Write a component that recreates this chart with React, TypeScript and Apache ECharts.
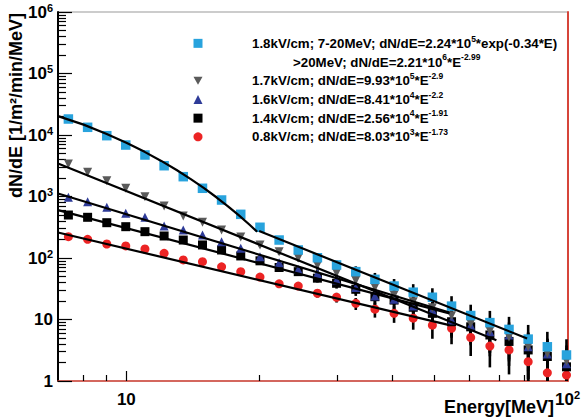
import React, { useEffect, useRef } from "react";
import * as echarts from "echarts";

const FF = '"Liberation Sans", Arial, Helvetica, sans-serif';

// Bin centres (MeV)
const energy = [7.39, 8.17, 9.03, 9.97, 11.02, 12.18, 13.46, 14.88, 16.44, 18.17, 20.09, 22.2, 24.53, 27.11, 29.96, 33.12, 36.6, 40.45, 44.7, 49.4, 54.6, 60.34, 66.69, 73.7, 81.45, 90.02, 99.48];

// dN/dE values per field
const flux18 = [18200, 13340, 9750, 6870, 4730, 3165, 2100, 1360, 877, 513, 316, 196, 135, 101, 77, 60, 45, 35, 27.8, 23, 16.5, 11.6, 8.9, 6.9, 4.8, 3.6, 2.65];
const flux17 = [3375, 2473, 1807, 1360, 993, 701, 480, 380, 285, 220, 163, 126, 100, 76, 57, 43, 33, 25, 19.5, 15.5, 11.5, 8.6, 6.5, 5.2, 3.6, 2.8, 2.1];
const flux16 = [970, 823, 667, 533, 459, 331, 285, 237, 184, 144, 105, 84, 65, 56, 44, 33, 24, 21.3, 16.6, 14.3, 9.8, 8.1, 6.3, 5.6, 3.6, 2.75, 1.9];
const flux14 = [500, 459, 375, 323, 268, 228, 196, 163, 135, 108, 90, 70, 60, 47, 38.8, 31, 23.5, 20.7, 15.8, 12.6, 9.2, 7.6, 5.6, 4.4, 3.2, 2.5, 1.7];
const flux08 = [222, 201, 169, 157, 140, 119, 93, 87, 72, 60, 49, 38, 35, 26.7, 23, 18.3, 14.7, 12.6, 10.5, 8.1, 7.2, 5.1, 3.7, 3.2, 2.06, 1.36, 1.25];

// relative statistical error per bin
const relErr = [0, 0, 0, 0, 0, 0, 0, 0.03, 0.05, 0.06, 0.08, 0.1, 0.12, 0.15, 0.18, 0.22, 0.27, 0.3, 0.35, 0.4, 0.45, 0.5, 0.55, 0.6, 0.7, 0.75, 0.8];

// fit curves
const fit18ExpE = [7, 8, 9, 10, 11, 12, 13, 14, 15, 16, 17, 18, 19, 19.8];
const fit18ExpV = [20300, 14750, 10500, 7475, 5320, 3788, 2695, 1919, 1366, 972, 692, 492, 350, 267];
const fit18PowE = [20, 81];
const fit18PowV = [275, 4.9];
const fit17E = [7, 69];
const fit17V = [3450, 4.6];
const fit16E = [7, 54];
const fit16V = [1120, 13];
const fit14E = [7, 54];
const fit14V = [600, 12.6];
const fit08E = [7, 54];
const fit08V = [260, 8.1];

// legend texts
const name18 = "1.8kV/cm; 7-20MeV; dN/dE=2.24*10^5*exp(-0.34*E)";
const name18b = ">20MeV; dN/dE=2.21*10^6*E^-2.99";
const name17 = "1.7kV/cm; dN/dE=9.93*10^5*E^-2.9";
const name16 = "1.6kV/cm; dN/dE=8.41*10^4*E^-2.2";
const name14 = "1.4kV/cm; dN/dE=2.56*10^4*E^-1.91";
const name08 = "0.8kV/cm; dN/dE=8.03*10^3*E^-1.73";

// tick values
const yMajorTicks = [1, 10, 100, 1000, 10000, 100000, 1000000];
const yMinorMult = [2, 3, 4, 5, 6, 7, 8, 9];
const xMajorTicks = [10];
const xLabelTicks = [10, 100];
const xMinorTicks = [8, 9, 20, 30, 40, 50, 60, 70, 80, 90];

const yMinorTicks: number[] = [];
yMajorTicks.slice(0, -1).forEach((d) => yMinorMult.forEach((m) => yMinorTicks.push(d * m)));

const downTri = "path://M0,0L10,0L5,8.66Z";

function toRich(s: string, main: string, sup: string) {
  const body = s.replace(/\^(-?\d+(?:\.\d+)?)/g, (_m, g) => `}{${sup}|${g}}{${main}|`);
  return (`{${main}|` + body + "}").replace(new RegExp(`\\{${main}\\|\\}`, "g"), "");
}

function powLabel(v: number) {
  const e = Math.round(Math.log10(v));
  if (e === 0) return "{b|1}";
  if (e === 1) return "{b|10}";
  return `{b|10}{s|${e}}`;
}

const pairs = (xs: number[], ys: number[]) => xs.map((x, i) => [x, ys[i]]);

export default function App() {
  const ref = useRef<HTMLDivElement>(null);
  useEffect(() => {
    document.body.style.margin = "0";
    const chart = echarts.init(ref.current!, null, { renderer: "svg" });

    const errData: number[][] = [];
    [flux18, flux17, flux16, flux14, flux08].forEach((arr) =>
      energy.forEach((e, i) => {
        const f = relErr[i];
        if (f > 0) errData.push([e, arr[i], arr[i] * (1 - f), arr[i] * (1 + f)]);
      })
    );

    const tickLabelRich = {
      b: { fontSize: 17, fontWeight: "bold", fontFamily: FF, color: "#000", lineHeight: 20 },
      s: { fontSize: 11, fontWeight: "bold", fontFamily: FF, color: "#000", verticalAlign: "top", lineHeight: 9 },
    };

    const scat = (name: string, ys: number[], symbol: string, size: number, color: string) => ({
      type: "scatter",
      name,
      data: pairs(energy, ys),
      symbol,
      symbolSize: size,
      itemStyle: { color, opacity: 1 },
      z: 2,
      silent: true,
    });
    const fitLine = (xs: number[], ys: number[], name?: string) => ({
      type: "line",
      name,
      data: pairs(xs, ys),
      symbol: "none",
      lineStyle: { color: "#000", width: 2.2 },
      z: 3,
      silent: true,
    });

    const option: any = {
      animation: false,
      backgroundColor: "#fff",
      grid: { left: 58, right: 13, top: 12, bottom: 39, show: true, borderColor: "#999", borderWidth: 1 },
      xAxis: [
        {
          type: "log",
          logBase: 10,
          min: 7,
          max: 100,
          position: "bottom",
          axisLine: { show: true, lineStyle: { color: "#d6453a", width: 1.5 } },
          axisTick: { show: true, inside: true, length: 6, customValues: xMinorTicks, lineStyle: { color: "#000", width: 1.2 } },
          axisLabel: { customValues: xLabelTicks, formatter: powLabel, margin: 8, rich: tickLabelRich },
          splitLine: { show: false },
        },
        {
          type: "log",
          logBase: 10,
          min: 7,
          max: 100,
          position: "bottom",
          axisLine: { show: false },
          axisTick: { show: true, inside: true, length: 10, customValues: xMajorTicks, lineStyle: { color: "#000", width: 1.2 } },
          axisLabel: { show: false },
          splitLine: { show: false },
        },
      ],
      yAxis: [
        {
          type: "log",
          logBase: 10,
          min: 1,
          max: 1000000,
          position: "left",
          axisLine: { show: true, lineStyle: { color: "#000", width: 2 } },
          axisTick: { show: true, inside: true, length: 8, customValues: yMinorTicks, lineStyle: { color: "#000", width: 1.2 } },
          axisLabel: { customValues: yMajorTicks, formatter: powLabel, margin: 5, rich: tickLabelRich },
          splitLine: { show: false },
        },
        {
          type: "log",
          logBase: 10,
          min: 1,
          max: 1000000,
          position: "left",
          axisLine: { show: false },
          axisTick: { show: true, inside: true, length: 14, customValues: yMajorTicks, lineStyle: { color: "#000", width: 1.2 } },
          axisLabel: { show: false },
          splitLine: { show: false },
        },
        {
          type: "log",
          logBase: 10,
          min: 1,
          max: 1000000,
          position: "right",
          axisLine: { show: true, lineStyle: { color: "#d6453a", width: 2 } },
          axisTick: { show: false },
          axisLabel: { show: false },
          splitLine: { show: false },
        },
      ],
      legend: {
        orient: "vertical",
        left: 193.5,
        top: 34,
        padding: 0,
        itemGap: 0,
        itemWidth: 9,
        itemHeight: 9,
        selectedMode: false,
        data: [
          { name: name18 },
          { name: name18b, icon: "none" },
          { name: name17, icon: downTri },
          { name: name16 },
          { name: name14 },
          { name: name08 },
        ],
        formatter: (n: string) => (n === name18b ? "{pad2|}" : "{pad|}") + toRich(n, "t", "s"),
        textStyle: {
          fontSize: 13.3,
          fontWeight: "bold",
          fontFamily: FF,
          color: "#000",
          lineHeight: 18.7,
          rich: {
            pad: { width: 44.5 },
            pad2: { width: 85.5 },
            t: { fontSize: 13.3, fontWeight: "bold", fontFamily: FF, color: "#000", lineHeight: 18.7 },
            s: { fontSize: 8.5, fontWeight: "bold", fontFamily: FF, color: "#000", verticalAlign: "top", lineHeight: 9 },
          },
        },
      },
      graphic: [
        {
          type: "text",
          x: 16,
          y: 13,
          rotation: Math.PI / 2,
          style: {
            text: "dN/dE [1/m²/min/MeV]",
            fontSize: 18,
            fontWeight: "bold",
            fontFamily: FF,
            fill: "#000",
            align: "right",
            verticalAlign: "middle",
          },
        },
        {
          type: "text",
          x: 554,
          y: 407,
          style: {
            text: "Energy[MeV]",
            fontSize: 18,
            fontWeight: "bold",
            fontFamily: FF,
            fill: "#000",
            align: "right",
            verticalAlign: "middle",
          },
        },
      ],
      series: [
        {
          type: "custom",
          data: errData,
          encode: { x: 0, y: 1 },
          clip: true,
          z: 1,
          silent: true,
          renderItem: (_p: any, api: any) => {
            const x = api.value(0);
            const p1 = api.coord([x, api.value(3)]);
            const p2 = api.coord([x, api.value(2)]);
            return {
              type: "line",
              shape: { x1: p1[0], y1: p1[1], x2: p2[0], y2: p2[1] },
              style: { stroke: "#000", lineWidth: 2.6 },
            };
          },
        },
        scat(name08, flux08, "circle", 9, "#ec2424"),
        scat(name14, flux14, "rect", 9, "#000000"),
        scat(name16, flux16, "triangle", 9, "#2e3b98"),
        scat(name17, flux17, downTri, 9, "#5a5a5a"),
        scat(name18, flux18, "rect", 9.5, "#28a3dd"),
        fitLine(fit18ExpE, fit18ExpV),
        fitLine(fit18PowE, fit18PowV, name18b),
        fitLine(fit17E, fit17V),
        fitLine(fit16E, fit16V),
        fitLine(fit14E, fit14V),
        fitLine(fit08E, fit08V),
      ],
    };
    chart.setOption(option);
    return () => chart.dispose();
  }, []);
  return <div ref={ref} style={{ width: 583, height: 420, position: "absolute", left: 0, top: 0 }} />;
}
